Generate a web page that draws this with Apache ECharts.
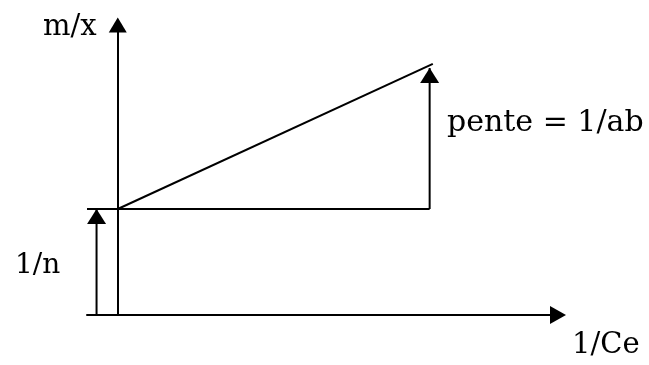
<!DOCTYPE html>
<html>
<head>
<meta charset="utf-8">
<title>m/x</title>
<script src="https://cdn.jsdelivr.net/npm/echarts@6/dist/echarts.min.js"></script>
<style>
	html,body{margin:0;padding:0;background:#fff;}
	#main{width:649px;height:365px;}
</style>
</head>
<body>
<div id="main"></div>
<script>
// donnees du schema (unites arbitraires)
var droite = [[0, 1], [2.97, 2.37]];            // m/x = 1/n + (1/ab) * 1/Ce
var base = [[-0.29, 1], [2.94, 1]];             // horizontale au niveau 1/n
var pente = [[2.94, 1], [2.94, 2.33]];          // fleche verticale "pente"
var ordonnee = [[-0.2, 0], [-0.2, 1]];          // fleche 1/n
var labels = ['m/x', 'pente = 1/ab', '1/n', '1/Ce'];

var fleche = {symbol: 'triangle', symbolSize: [19, 15], symbolOffset: [0, 7.5]};

// derniere valeur avec une pointe, les autres sans symbole
function points(pts, pointe){
	var out = [];
	for(var i=0;i<pts.length;i++){
		if(pointe && i == pts.length-1){
			out.push({value: pts[i], symbol: fleche.symbol, symbolSize: fleche.symbolSize, symbolOffset: fleche.symbolOffset});
		}else{
			out.push({value: pts[i], symbol: 'none'});
		}
	}
	return out;
}

function trait(name, data){
	return {
		name: name,
		type: 'line',
		data: data,
		symbol: 'triangle',
		clip: false,
		silent: true,
		animation: false,
		lineStyle: {color: '#000', width: 2},
		itemStyle: {color: '#000'}
	};
}

var chart = echarts.init(document.getElementById('main'));
var police = 'DejaVu Serif';
chart.setOption({
	backgroundColor: '#fff',
	animation: false,
	// l'axe des x commence sous la fleche 1/n, l'axe des y est sur x = 0
	grid: {left: 87, right: 91, top: 25, bottom: 50},
	xAxis: {
		type: 'value',
		min: -0.29,
		max: 4.15,
		axisLine: {show: true, onZero: true, symbol: ['none', 'triangle'], symbolSize: [18, 16], lineStyle: {color: '#000', width: 2}},
		axisTick: {show: false},
		axisLabel: {show: false},
		splitLine: {show: false}
	},
	yAxis: {
		type: 'value',
		min: 0,
		max: 2.736,
		axisLine: {show: true, onZero: true, symbol: ['none', 'triangle'], symbolSize: [18, 15], lineStyle: {color: '#000', width: 2}},
		axisTick: {show: false},
		axisLabel: {show: false},
		splitLine: {show: false}
	},
	series: [
		trait('droite', points(droite, false)),
		trait('base', points(base, false)),
		trait('pente', points(pente, true)),
		trait('1/n', points(ordonnee, true))
	],
	graphic: [
		{type: 'text', left: 43, top: 13, style: {text: labels[0], font: '29px "' + police + '"', fill: '#000'}},
		{type: 'text', left: 447, top: 108, style: {text: labels[1], font: '30px "' + police + '"', fill: '#000'}},
		{type: 'text', left: 15, top: 252, style: {text: labels[2], font: '28px "' + police + '"', fill: '#000'}},
		{type: 'text', left: 572, top: 331, style: {text: labels[3], font: '29px "' + police + '"', fill: '#000'}}
	]
});
</script>
</body>
</html>
